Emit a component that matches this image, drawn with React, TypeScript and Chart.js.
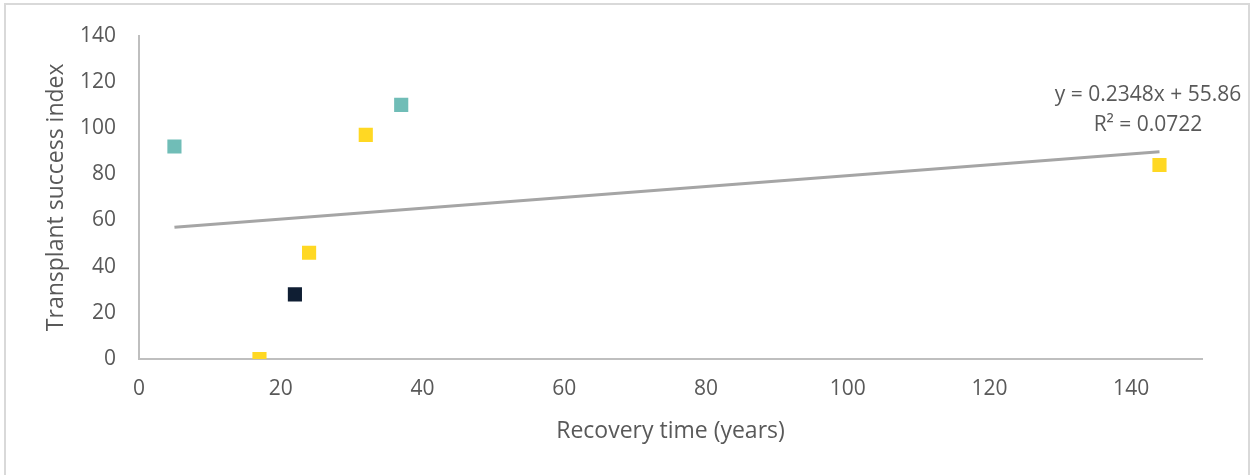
import React, { useEffect, useRef } from "react";
import { Chart, registerables } from "chart.js";

Chart.register(...registerables);

// Recovery time (years) and transplant success index per site
const recoveryYears = [5, 37, 17, 22, 24, 32, 144];
const successIndex = [92, 110, 0, 28, 46, 97, 84];
const siteGroup = ["A", "A", "B", "C", "B", "B", "B"];

// Linear trendline reported on the chart
const trendSlope = 0.2348;
const trendIntercept = 55.86;
const trendRSquared = 0.0722;

const groupColors: Record<string, string> = {
  A: "#70BDB7",
  B: "#FFD823",
  C: "#0F1E33",
};

const FONT = "'Open Sans', sans-serif";
const TEXT = "#595959";
const AXIS = "#BFBFBF";

const equationLabel = {
  id: "equationLabel",
  afterDraw(chart: any) {
    const ctx = chart.ctx;
    ctx.save();
    ctx.fillStyle = TEXT;
    ctx.font = `21px ${FONT}`;
    ctx.textAlign = "center";
    ctx.textBaseline = "middle";
    const sign = trendIntercept >= 0 ? "+" : "-";
    ctx.fillText(
      `y = ${trendSlope.toFixed(4)}x ${sign} ${Math.abs(trendIntercept).toFixed(2)}`,
      1148,
      95
    );
    ctx.fillText(`R² = ${trendRSquared.toFixed(4)}`, 1148, 125);
    ctx.restore();
  },
};

export default function App() {
  const canvasRef = useRef<HTMLCanvasElement | null>(null);

  useEffect(() => {
    if (!canvasRef.current) return;
    const points = recoveryYears.map((x, i) => ({ x, y: successIndex[i] }));
    const xMin = Math.min(...recoveryYears);
    const xMax = Math.max(...recoveryYears);
    const trend = [xMin, xMax].map((x) => ({ x, y: trendSlope * x + trendIntercept }));

    const chart = new Chart(canvasRef.current, {
      type: "scatter",
      data: {
        datasets: [
          {
            label: "Sites",
            data: points,
            pointStyle: "rect",
            pointRadius: 10,
            pointHoverRadius: 10,
            borderWidth: 0,
            backgroundColor: siteGroup.map((g) => groupColors[g]),
            order: 2,
          },
          {
            label: "Linear trend",
            data: trend,
            showLine: true,
            borderColor: "#A5A5A5",
            borderWidth: 3,
            pointRadius: 0,
            order: 1,
          },
        ],
      },
      options: {
        responsive: false,
        animation: false,
        layout: { padding: { left: 43, top: 33, right: 49, bottom: 30 } },
        plugins: {
          legend: { display: false },
          tooltip: { enabled: false },
        },
        scales: {
          x: {
            type: "linear",
            min: 0,
            max: 150,
            grid: { display: false, drawTicks: false },
            border: { display: true, color: AXIS, width: 2 },
            ticks: {
              stepSize: 20,
              includeBounds: false,
              padding: 17,
              color: TEXT,
              font: { family: FONT, size: 21 },
              maxRotation: 0,
            },
            title: {
              display: true,
              text: "Recovery time (years)",
              color: TEXT,
              font: { family: FONT, size: 23 },
              padding: { top: 0, bottom: 0 },
            },
            afterFit: (scale: any) => {
              scale.height = 86;
            },
          },
          y: {
            type: "linear",
            min: 0,
            max: 140,
            grid: { display: false, drawTicks: false },
            border: { display: true, color: AXIS, width: 2 },
            ticks: {
              stepSize: 20,
              padding: 23,
              color: TEXT,
              font: { family: FONT, size: 21 },
            },
            title: {
              display: true,
              text: "Transplant success index",
              color: TEXT,
              font: { family: FONT, size: 23 },
              padding: { top: 0, bottom: 0 },
            },
            afterFit: (scale: any) => {
              scale.width = 96;
            },
          },
        },
      },
      plugins: [equationLabel],
    });
    return () => chart.destroy();
  }, []);

  return (
    <div
      style={{
        position: "fixed",
        left: 0,
        top: 0,
        width: 1251,
        height: 475,
        background: "#FFFFFF",
        overflow: "hidden",
      }}
    >
      <div
        style={{
          position: "absolute",
          left: 4,
          top: 3,
          width: 1246,
          height: 490,
          boxSizing: "border-box",
          border: "2px solid #D9D9D9",
        }}
      />
      <canvas
        ref={canvasRef}
        width={1251}
        height={475}
        style={{ position: "absolute", left: 0, top: 0 }}
      />
    </div>
  );
}
